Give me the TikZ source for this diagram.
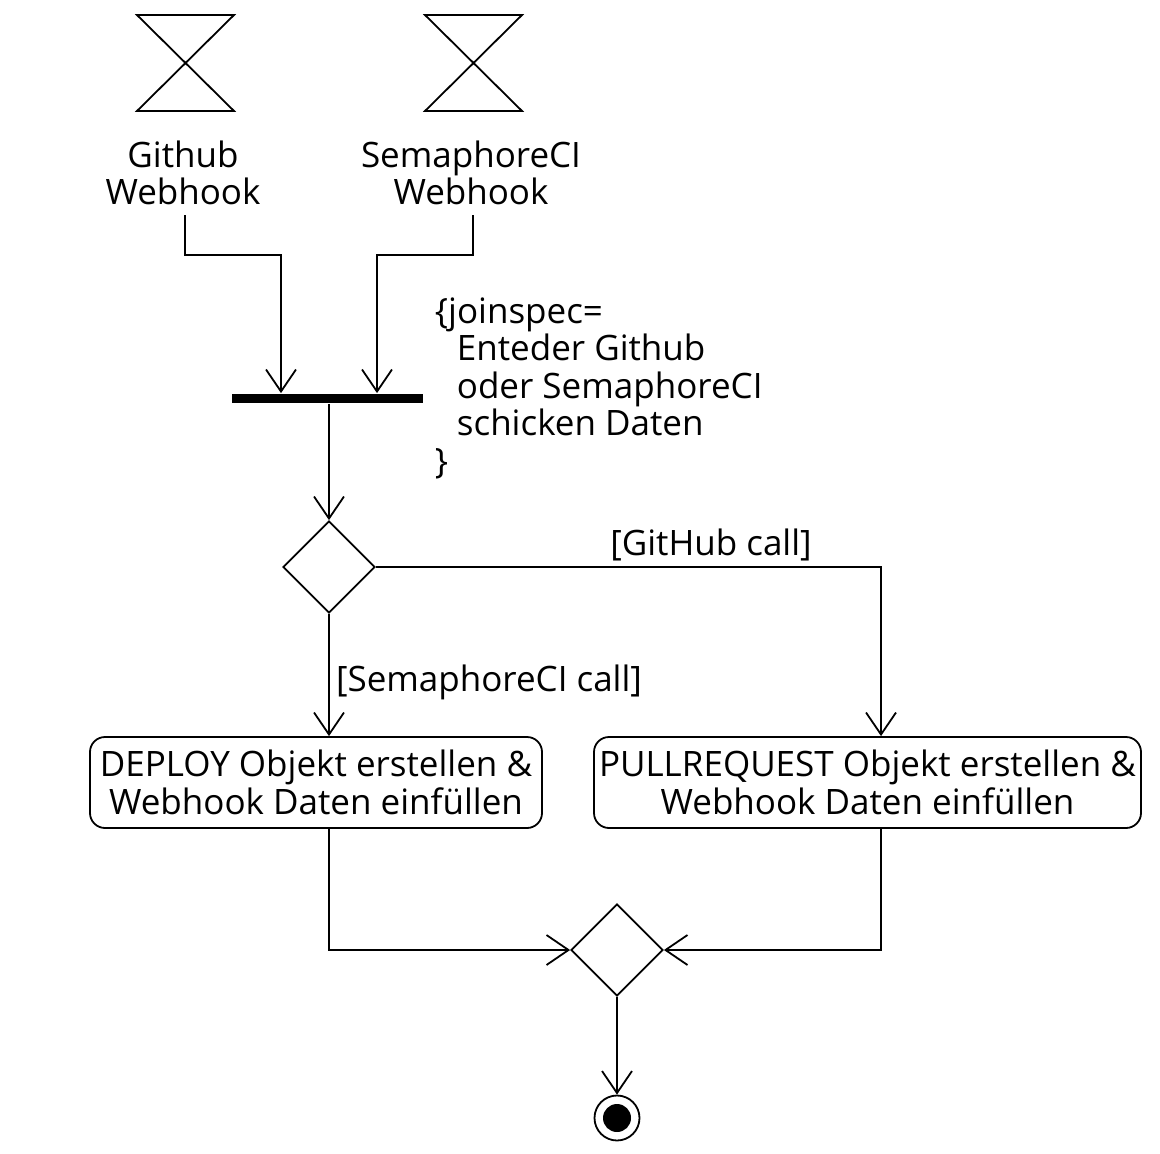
\documentclass[tikz,border=0pt]{standalone}
\usepackage{fontspec}
\setmainfont{Open Sans}
\usetikzlibrary{arrows.meta,shapes.geometric}
\begin{document}
\begin{tikzpicture}[x=1pt,y=-1pt,line width=1.8pt,
  >={Straight Barb[length=22pt,width=30pt,line width=1.8pt]},
  lbl/.style={font=\fontsize{35}{37.5}\selectfont,inner sep=0pt,align=center},
  decision/.style={diamond,draw,aspect=1,inner sep=0pt,minimum width=92pt,minimum height=92pt},
  action/.style={draw,rounded corners=15pt,minimum height=91pt,inner sep=0pt,align=center,font=\fontsize{35}{37.5}\selectfont},
  barnode/.style={fill=black,draw=none,minimum width=191pt,minimum height=9pt,inner sep=0pt},
  finalnode/.style={circle,draw,minimum size=45pt,inner sep=0pt}
]
\useasboundingbox (0,0) rectangle (1160,1154);
% hourglass event symbols
\draw (137,15) -- (234,15) -- (137,111) -- (234,111) -- cycle;
\draw (425,15) -- (522,15) -- (425,111) -- (522,111) -- cycle;
\node[lbl] (ghl) at (183,173) {Github\\Webhook};
\node[lbl] (sel) at (471,173) {SemaphoreCI\\Webhook};
\coordinate (g1) at (185,215);
\coordinate (s1) at (473,215);
\coordinate (gj) at (281,255);
\coordinate (sj) at (377,255);
% join bar
\node[barnode] (bar) at (327.5,398.5) {};
\node[lbl,align=left,anchor=west] (spec) at (434,388) {\{joinspec=\\\hspace*{22pt}Enteder Github\\\hspace*{22pt}oder SemaphoreCI\\\hspace*{22pt}schicken Daten\\\}};
\draw[->] (g1) |- (gj) -- (bar.north -| gj);
\draw[->] (s1) |- (sj) -- (bar.north -| sj);
% decision
\node[decision] (d1) at (329,567) {};
\draw[->] (bar.south -| d1) -- (d1.north);
% actions
\node[action,minimum width=452pt] (b1) at (316,782.5) {DEPLOY Objekt erstellen \&\\Webhook Daten einfüllen};
\node[action,minimum width=547pt] (b2) at (867.5,782.5) {PULLREQUEST Objekt erstellen \&\\Webhook Daten einfüllen};
\coordinate (rx) at (881,567);
\draw[->] (d1.east) -- (rx) -- (b2.north -| rx);
\draw[->] (d1.south) -- (b1.north -| d1);
\node[lbl] (glab) at (711,545) {[GitHub call]};
\node[lbl] (slab) at (489,682) {[SemaphoreCI call]};
% merge
\node[decision] (d2) at (617,950) {};
\draw[->] (b1.south -| d1) |- (d2.west);
\draw[->] (b2.south -| rx) |- (d2.east);
% final
\node[finalnode] (fin) at (617,1118) {};
\fill (fin.center) circle (14pt);
\draw[->] (d2.south) -- (fin.north);
\end{tikzpicture}
\end{document}
